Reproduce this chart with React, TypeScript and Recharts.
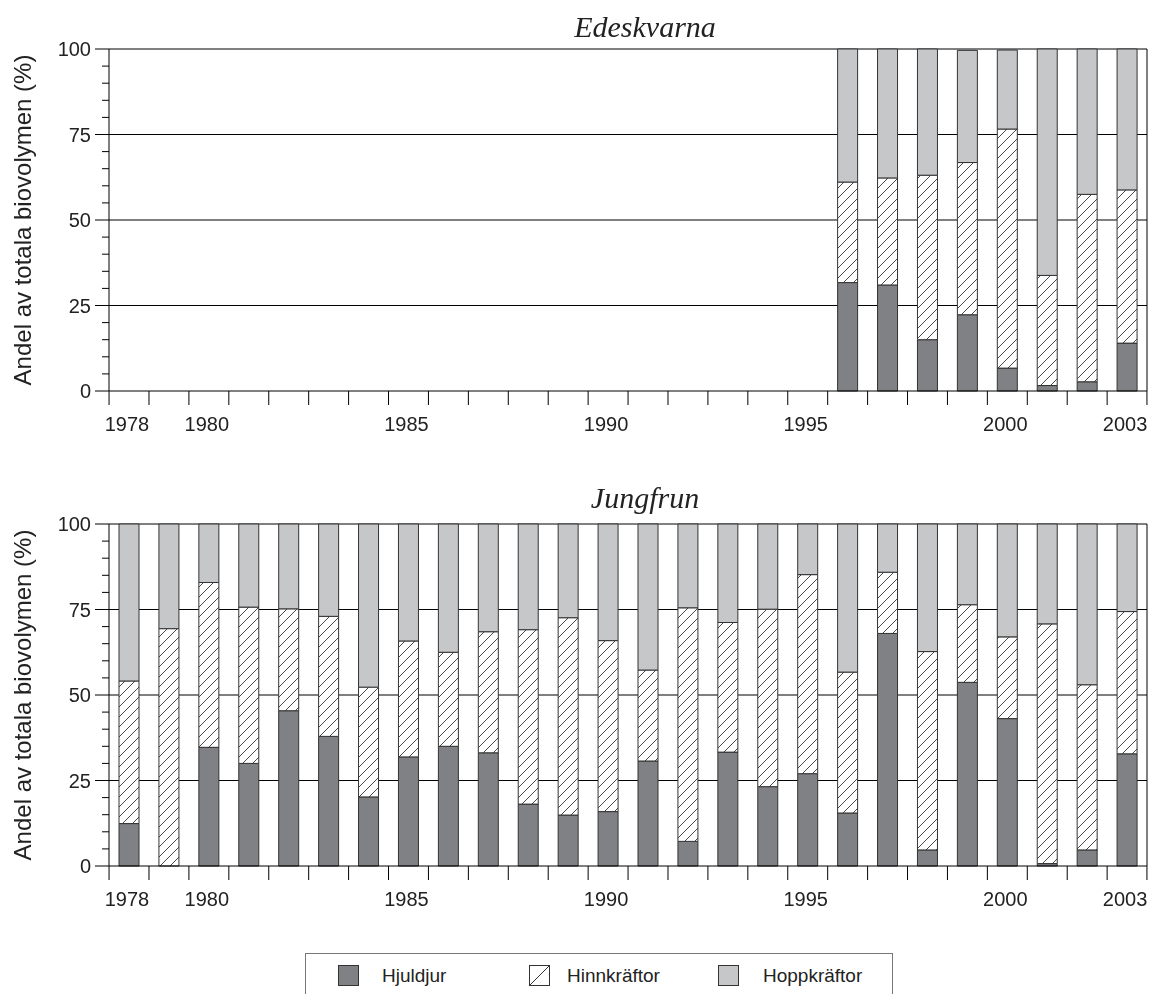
import React from 'react';
import {
	BarChart,
	Bar,
	XAxis,
	YAxis,
	CartesianGrid,
	Label,
} from 'recharts';

const years = [
	'1978', '1979', '1980', '1981', '1982', '1983', '1984', '1985', '1986',
	'1987', '1988', '1989', '1990', '1991', '1992', '1993', '1994', '1995',
	'1996', '1997', '1998', '1999', '2000', '2001', '2002', '2003',
];
const labelledYears = ['1978', '1980', '1985', '1990', '1995', '2000', '2003'];
const yTicks = [0, 5, 10, 15, 20, 25, 30, 35, 40, 45, 50, 55, 60, 65, 70, 75, 80, 85, 90, 95, 100];

// Edeskvarna: sampled only 1996-2003
const edeskvarnaHjuldjur = [
	null, null, null, null, null, null, null, null, null, null, null, null, null,
	null, null, null, null, null, 31.7, 31.0, 15.0, 22.3, 6.7, 1.6, 2.7, 14.0,
];
const edeskvarnaHinn = [
	null, null, null, null, null, null, null, null, null, null, null, null, null,
	null, null, null, null, null, 29.4, 31.3, 48.1, 44.5, 69.9, 32.2, 54.8, 44.8,
];
const edeskvarnaHopp = [
	null, null, null, null, null, null, null, null, null, null, null, null, null,
	null, null, null, null, null, 38.9, 37.7, 36.9, 32.8, 23.1, 66.2, 42.5, 41.2,
];

const jungfrunHjuldjur = [
	12.4, 0, 34.7, 30.0, 45.4, 37.9, 20.2, 31.9, 35.0, 33.1, 18.1, 14.9, 15.9,
	30.7, 7.2, 33.3, 23.2, 27.0, 15.5, 68.0, 4.7, 53.7, 43.1, 0.7, 4.7, 32.8,
];
const jungfrunHinn = [
	41.7, 69.4, 48.2, 45.7, 29.8, 35.1, 32.1, 33.9, 27.5, 35.4, 51.0, 57.7, 50.0,
	26.6, 68.3, 37.9, 51.9, 58.2, 41.2, 17.9, 58.0, 22.7, 23.9, 70.1, 48.3, 41.6,
];
const jungfrunHopp = [
	45.9, 30.6, 17.1, 24.3, 24.8, 27.0, 47.7, 34.2, 37.5, 31.5, 30.9, 27.4, 34.1,
	42.7, 24.5, 28.8, 24.9, 14.8, 43.3, 14.1, 37.3, 23.6, 33.0, 29.2, 47.0, 25.6,
];

const buildRows = (h: (number | null)[], hi: (number | null)[], ho: (number | null)[]) =>
	years.map((year, i) => ({
		year,
		hjuldjur: h[i],
		hinn: hi[i],
		hopp: ho[i],
	}));

const edeskvarnaData = buildRows(edeskvarnaHjuldjur, edeskvarnaHinn, edeskvarnaHopp);
const jungfrunData = buildRows(jungfrunHjuldjur, jungfrunHinn, jungfrunHopp);

const SANS = '"Liberation Sans", Arial, sans-serif';
const SERIF = '"Liberation Serif", "Times New Roman", serif';
const DARK = '#808185';
const LIGHT = '#c6c7c9';
const EDGE = '#333';

const YTick = (props: any) => {
	const { x, y, payload } = props;
	const major = payload.value % 25 === 0;
	return (
		<g>
			<line x1={x - (major ? 14 : 7)} x2={x} y1={y} y2={y} stroke='#000' />
			{major && (
				<text
					x={x - 18}
					y={y}
					dy='0.36em'
					textAnchor='end'
					fontSize={20}
					fontFamily={SANS}
					fill='#222'
				>
					{payload.value}
				</text>
			)}
		</g>
	);
};

const XTick = (props: any) => {
	const { x, y, payload, index } = props;
	const half = 19.9;
	return (
		<g>
			<line x1={x - half} x2={x - half} y1={y} y2={y + 14} stroke='#000' />
			{index === years.length - 1 && (
				<line x1={x + half} x2={x + half} y1={y} y2={y + 14} stroke='#000' />
			)}
			{labelledYears.includes(payload.value) && (
				<text
					x={x - 2}
					y={y + 40}
					textAnchor='middle'
					fontSize={20}
					fontFamily={SANS}
					fill='#222'
				>
					{payload.value}
				</text>
			)}
		</g>
	);
};

const YLabel = (props: any) => {
	const { viewBox } = props;
	const cx = viewBox.x + 14;
	const cy = viewBox.y + viewBox.height / 2;
	return (
		<text
			x={cx}
			y={cy}
			transform={`rotate(-90 ${cx} ${cy})`}
			textAnchor='middle'
			dominantBaseline='central'
			fontSize={24}
			fontFamily={SANS}
			fill='#222'
		>
			Andel av totala biovolymen (%)
		</text>
	);
};

const Hatch = ({ id }: { id: string }) => (
	<pattern id={id} patternUnits='userSpaceOnUse' width={10} height={10}>
		<rect width={10} height={10} fill='#fff' />
		<path
			d='M0,10 L10,0 M-2,2 L2,-2 M8,12 L12,8'
			stroke={EDGE}
			strokeWidth={0.9}
		/>
	</pattern>
);

// right-hand frame line of the plot area
const rightEdge = ({ offset }: any) => [offset.left + offset.width];

interface PanelProps {
	data: any[];
	hatchId: string;
	height: number;
	top: number;
}

const Panel: React.FC<PanelProps> = ({ data, hatchId, height, top }) => (
	<BarChart
		width={1142}
		height={height}
		data={data}
		margin={{ top, right: 3, left: 0, bottom: 17 }}
	>
		<defs>
			<Hatch id={hatchId} />
		</defs>
		<CartesianGrid
			stroke='#000'
			horizontalValues={[25, 50, 75, 100]}
			verticalCoordinatesGenerator={rightEdge}
		/>
		<XAxis
			dataKey='year'
			interval={0}
			height={40}
			tickSize={0}
			tickMargin={0}
			tickLine={false}
			tick={<XTick />}
			axisLine={{ stroke: '#000' }}
		/>
		<YAxis
			domain={[0, 100]}
			ticks={yTicks}
			interval={0}
			width={101}
			tickSize={0}
			tickMargin={0}
			tickLine={false}
			tick={<YTick />}
			axisLine={{ stroke: '#000' }}
		>
			<Label content={<YLabel />} />
		</YAxis>
		<Bar dataKey='hjuldjur' stackId='a' barSize={20} fill={DARK} stroke={EDGE} isAnimationActive={false} />
		<Bar dataKey='hinn' stackId='a' barSize={20} fill={`url(#${hatchId})`} stroke={EDGE} isAnimationActive={false} />
		<Bar dataKey='hopp' stackId='a' barSize={20} fill={LIGHT} stroke={EDGE} isAnimationActive={false} />
	</BarChart>
);

const titleStyle: React.CSSProperties = {
	position: 'absolute',
	left: 0,
	width: 1274,
	textAlign: 'center',
	fontFamily: SERIF,
	fontStyle: 'italic',
	fontSize: 30,
	lineHeight: '30px',
	color: '#222',
};

const legendItems = [
	{ name: 'Hjuldjur', fill: DARK, sx: 33, tx: 77 },
	{ name: 'Hinnkräftor', fill: 'url(#hatchLegend)', sx: 224, tx: 262 },
	{ name: 'Hoppkräftor', fill: LIGHT, sx: 413, tx: 458 },
];

const LegendBox = () => (
	<svg width={588} height={50} style={{ display: 'block' }}>
		<defs>
			<pattern id='hatchLegend' patternUnits='userSpaceOnUse' width={21} height={21} x={224} y={12}>
				<rect width={21} height={21} fill='#fff' />
				<path d='M0,21 L21,0' stroke={EDGE} strokeWidth={1} />
			</pattern>
		</defs>
		<rect x={0.5} y={0.5} width={587} height={60} fill='#fff' stroke='#777' />
		{legendItems.map((it) => (
			<g key={it.name}>
				<rect x={it.sx + 0.5} y={12.5} width={20} height={20} fill={it.fill} stroke={EDGE} />
				<text x={it.tx} y={29} fontSize={19} fontFamily={SANS} fill='#222'>
					{it.name}
				</text>
			</g>
		))}
	</svg>
);

export default function App() {
	return (
		<div
			style={{
				position: 'fixed',
				left: 8,
				top: 8,
				width: 1142,
				height: 986,
				overflow: 'hidden',
			}}
		>
			<div style={{ position: 'absolute', left: 0, top: 0 }}>
				<Panel data={edeskvarnaData} hatchId='hatchA' height={440} top={41} />
			</div>
			<div style={{ ...titleStyle, top: 4 }}>Edeskvarna</div>
			<div style={{ position: 'absolute', left: 0, top: 450 }}>
				<Panel data={jungfrunData} hatchId='hatchB' height={465} top={66} />
			</div>
			<div style={{ ...titleStyle, top: 475 }}>Jungfrun</div>
			<div style={{ position: 'absolute', left: 297, top: 945 }}>
				<LegendBox />
			</div>
		</div>
	);
}
